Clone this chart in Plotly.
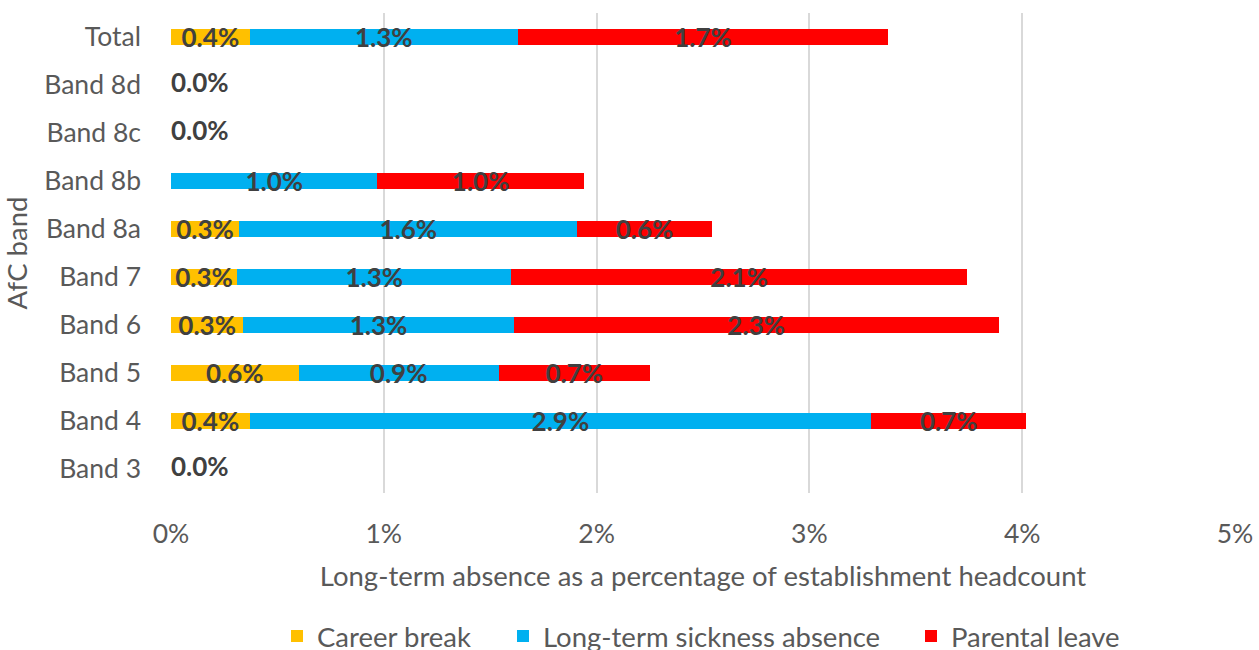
import plotly.graph_objects as go

categories = ["Band 3", "Band 4", "Band 5", "Band 6", "Band 7",
              "Band 8a", "Band 8b", "Band 8c", "Band 8d", "Total"]
career_break = [0.0, 0.37, 0.60, 0.34, 0.31, 0.32, 0.0, 0.0, 0.0, 0.37]
sickness = [0.0, 2.92, 0.94, 1.27, 1.29, 1.59, 0.97, 0.0, 0.0, 1.26]
parental = [0.0, 0.73, 0.71, 2.28, 2.14, 0.63, 0.97, 0.0, 0.0, 1.74]
tick_vals = [0, 1, 2, 3, 4, 5]
tick_text = ["0%", "1%", "2%", "3%", "4%", "5%"]

series = [
    ("Career break", career_break, "#FFC000", "legend", 277),
    ("Long-term sickness absence", sickness, "#00B0F0", "legend2", 503),
    ("Parental leave", parental, "#FF0000", "legend3", 911),
]

FONT = "Lato"
LABEL_COLOR = "#404040"
AXIS_COLOR = "#595959"
W, H = 1259, 650

fig = go.Figure()
for name, vals, color, leg, _ in series:
    fig.add_trace(go.Bar(
        y=categories, x=vals, name=name, orientation="h",
        marker=dict(color=color, line=dict(width=0)),
        text=[f"{v:.1f}%" if v > 0 else "" for v in vals],
        textposition="inside", insidetextanchor="middle",
        textfont=dict(family=FONT, size=26, color=LABEL_COLOR, weight="bold"),
        constraintext="none", cliponaxis=False, legend=leg,
    ))

# zero-total categories get a single "0.0%" label at the origin
totals = [a + b + c for a, b, c in zip(career_break, sickness, parental)]
zero_cats = [c for c, t in zip(categories, totals) if t == 0]
fig.add_trace(go.Scatter(
    y=zero_cats, x=[0] * len(zero_cats), mode="text",
    text=["0.0%"] * len(zero_cats), textposition="middle right",
    textfont=dict(family=FONT, size=26, color=LABEL_COLOR, weight="bold"),
    showlegend=False, hoverinfo="skip", cliponaxis=False,
))

leg_common = dict(orientation="h", yref="container", xref="container",
                  y=(H - 636) / H, yanchor="middle", xanchor="left",
                  bgcolor="rgba(0,0,0,0)", borderwidth=0,
                  font=dict(family=FONT, size=27.5, color=AXIS_COLOR))
legends = {}
for _, _, _, leg, left in series:
    legends[leg] = dict(leg_common, x=left / W)

fig.update_layout(
    barmode="stack", bargap=0.667,
    width=W, height=H,
    margin=dict(l=171, r=24, t=13, b=157, autoexpand=False),
    plot_bgcolor="white", paper_bgcolor="white",
    font=dict(family=FONT, size=26, color=AXIS_COLOR),
    uniformtext=dict(minsize=26, mode="show"),
    **legends,
    xaxis=dict(range=[0, 5], tickvals=tick_vals, ticktext=tick_text,
               showgrid=True, gridcolor="#D9D9D9", gridwidth=2,
               zeroline=False, showline=False, ticks="", automargin=False,
               ticklabelstandoff=22,
               tickfont=dict(family=FONT, size=26.5, color=AXIS_COLOR),
               title=dict(text="Long-term absence as a percentage of establishment headcount",
                          font=dict(family=FONT, size=27.5, color=AXIS_COLOR), standoff=19)),
    yaxis=dict(categoryorder="array", categoryarray=categories,
               range=[-0.5, 9.5], showgrid=False, zeroline=False, showline=False,
               ticks="", ticklabelstandoff=29, automargin=False,
               tickfont=dict(family=FONT, size=26.5, color=AXIS_COLOR),
               title=dict(text="AfC band", font=dict(family=FONT, size=27.5, color=AXIS_COLOR),
                          standoff=8)),
)

fig.write_html("out.html")
